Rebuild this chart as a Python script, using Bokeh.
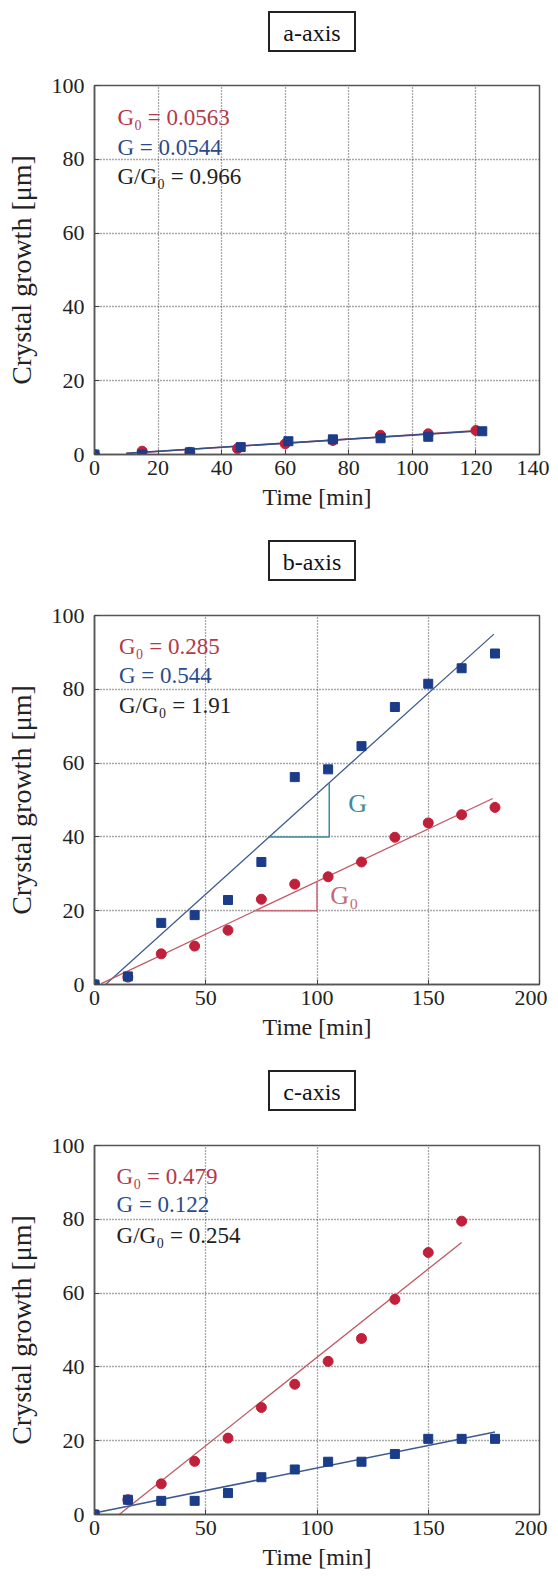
from bokeh.plotting import figure
from bokeh.models import Range1d, Div, FixedTicker
from bokeh.layouts import column
from bokeh.embed import file_html
from bokeh.resources import INLINE
from bokeh.core.properties import value

# ---------------- data ----------------
# a-axis
a_time_red = [0, 15, 30, 45, 60, 75, 90, 105, 120]
a_red = [0.0, 0.9, 0.6, 1.6, 2.9, 3.8, 5.2, 5.6, 6.5]
a_time_blue = [0, 15, 30, 46, 61, 75, 90, 105, 122]
a_blue = [0.0, 0.0, 0.6, 2.0, 3.6, 4.1, 4.4, 4.8, 6.3]
a_G0, a_G, a_ratio = 0.0563, 0.0544, 0.966
a_b0, a_b = -0.3, -0.2
a_fit_t = [10, 122]

# b-axis
b_time = [0, 15, 30, 45, 60, 75, 90, 105, 120, 135, 150, 165, 180]
b_red = [0.0, 2.0, 8.3, 10.4, 14.7, 23.1, 27.2, 29.2, 33.2, 39.9, 43.8, 46.0, 48.0]
b_blue = [0.0, 2.2, 16.7, 18.8, 22.9, 33.2, 56.2, 58.3, 64.6, 75.2, 81.5, 85.7, 89.7]
b_G0, b_G, b_ratio = 0.285, 0.544, 1.91
b_b0, b_b = -0.6, -2.7
b_fit_t0 = [3, 179]
b_fit_t = [3, 179.5]
# slope triangles (base level, right end time)
b_tri_G = [40, 105.5]
b_tri_G0 = [20, 100]

# c-axis
c_time_red = [0, 15, 30, 45, 60, 75, 90, 105, 120, 135, 150, 165]
c_red = [0.0, 4.0, 8.3, 14.4, 20.7, 29.0, 35.3, 41.5, 47.7, 58.3, 71.0, 79.5]
c_time_blue = [0, 15, 30, 45, 60, 75, 90, 105, 120, 135, 150, 165, 180]
c_blue = [0.0, 4.0, 3.7, 3.7, 5.8, 10.1, 12.2, 14.3, 14.3, 16.4, 20.5, 20.5, 20.5]
c_G0, c_G, c_ratio = 0.479, 0.122, 0.254
c_b0, c_b = -5.3, 0.4
c_fit_t0 = [11.1, 165]
c_fit_t = [0, 180]

y_ticks = [0, 20, 40, 60, 80, 100]
a_x_ticks = [0, 20, 40, 60, 80, 100, 120, 140]
bc_x_ticks = [0, 50, 100, 150, 200]

# ---------------- style ----------------
SERIF = "'Liberation Serif', 'Times New Roman', serif"
SERIF_CSS = "'Liberation Serif', 'Times New Roman', serif"
RED_PT = "#c0203a"
BLUE_PT = "#1b3c88"
RED_LN = "#c05862"
BLUE_LN = "#3e5a8e"
TRI_BLUE = "#3f8aa0"
TRI_RED = "#c66a78"
RED_TX = "#b23a4a"
BLUE_TX = "#2b4a8c"
BLACK_TX = "#222222"

TOP = 16


def make_fig(xmax, xticks, left, bottom=72):
    p = figure(width=558, height=10, frame_width=445, frame_height=369,
               x_range=Range1d(0, xmax), y_range=Range1d(0, 100),
               output_backend="svg", toolbar_location=None,
               min_border_left=left, min_border_right=10,
               min_border_top=TOP, min_border_bottom=bottom)
    p.outline_line_color = "#555555"
    p.outline_line_width = 1.5
    for ax in (p.xaxis[0], p.yaxis[0]):
        ax.major_label_text_font = SERIF
        ax.major_label_text_font_size = "22px"
        ax.major_label_text_color = "#222222"
        ax.axis_label_text_font = SERIF
        ax.axis_label_text_font_style = "normal"
        ax.axis_label_text_color = "#222222"
        ax.minor_tick_line_color = None
        ax.major_tick_out = 0
        ax.major_tick_in = 5
        ax.major_tick_line_color = "#444444"
        ax.axis_line_color = "#555555"
        ax.axis_line_width = 1.5
    p.xaxis.ticker = FixedTicker(ticks=xticks)
    p.yaxis.ticker = FixedTicker(ticks=y_ticks)
    p.xaxis.axis_label = "Time [min]"
    p.xaxis.axis_label_text_font_size = "24px"
    p.yaxis.axis_label = "Crystal growth [μm]"
    p.yaxis.axis_label_text_font_size = "28px"
    p.xaxis.major_label_standoff = 6
    p.xaxis.axis_label_standoff = 6
    p.yaxis.major_label_standoff = 10
    p.yaxis.axis_label_standoff = 12
    for g in (p.xgrid[0], p.ygrid[0]):
        g.grid_line_color = "#333333"
        g.grid_line_dash = "1 2"
        g.grid_line_width = 1.3
        g.grid_line_alpha = 0.85
    return p


def fit_line(p, ts, G, b, color, width=1.3):
    p.line([ts[0], ts[1]], [G * ts[0] + b, G * ts[1] + b], line_color=color, line_width=width)


def labels(p, x, ys, G0, G, ratio, g0fmt, gfmt, rfmt):
    texts = [f"G₀ = {G0:{g0fmt}}", f"G = {G:{gfmt}}", f"G/G₀ = {ratio:{rfmt}}"]
    cols = [RED_TX, BLUE_TX, BLACK_TX]
    for t, y, c in zip(texts, ys, cols):
        p.text(x=[x], y=[y], text=[t], text_color=c, text_font=value(SERIF),
               text_font_size="23px", text_baseline="middle", text_align="left")


# ---------------- a-axis ----------------
pa = make_fig(140, a_x_ticks, 94)
fit_line(pa, a_fit_t, a_G0, a_b0, "#b0405a", 1.6)
fit_line(pa, a_fit_t, a_G, a_b, "#34508a", 1.6)
pa.scatter(a_time_red, a_red, marker="circle", size=10, fill_color=RED_PT, line_color=RED_PT)
pa.scatter(a_time_blue, a_blue, marker="square", size=9, fill_color=BLUE_PT, line_color=BLUE_PT)
labels(pa, 7.2, [91.4, 83.3, 75.4], a_G0, a_G, a_ratio, ".4f", ".4f", ".3f")

# ---------------- b-axis ----------------
pb = make_fig(200, bc_x_ticks, 90)
fit_line(pb, b_fit_t, b_G, b_b, BLUE_LN)
fit_line(pb, b_fit_t0, b_G0, b_b0, RED_LN)
# slope triangles
for (base, tend), G, bb, col in ((b_tri_G, b_G, b_b, TRI_BLUE), (b_tri_G0, b_G0, b_b0, TRI_RED)):
    tstart = (base - bb) / G
    top = G * tend + bb
    pb.line([tstart, tend, tend], [base, base, top], line_color=col, line_width=1.5)
pb.text(x=[114], y=[49], text=["G"], text_color=TRI_BLUE, text_font=value(SERIF),
        text_font_size="26px", text_baseline="middle", text_align="left")
pb.text(x=[106], y=[24], text=["G₀"], text_color=TRI_RED, text_font=value(SERIF),
        text_font_size="26px", text_baseline="middle", text_align="left")
pb.scatter(b_time, b_red, marker="circle", size=10, fill_color=RED_PT, line_color=RED_PT)
pb.scatter(b_time, b_blue, marker="square", size=9, fill_color=BLUE_PT, line_color=BLUE_PT)
labels(pb, 11, [91.6, 83.7, 75.6], b_G0, b_G, b_ratio, ".3f", ".3f", ".2f")

# ---------------- c-axis ----------------
pc = make_fig(200, bc_x_ticks, 92, 66)
fit_line(pc, c_fit_t0, c_G0, c_b0, RED_LN)
fit_line(pc, c_fit_t, c_G, c_b, BLUE_LN, 1.6)
pc.scatter(c_time_red, c_red, marker="circle", size=10, fill_color=RED_PT, line_color=RED_PT)
pc.scatter(c_time_blue, c_blue, marker="square", size=9, fill_color=BLUE_PT, line_color=BLUE_PT)
labels(pc, 9.9, [91.7, 84.0, 75.6], c_G0, c_G, c_ratio, ".3f", ".3f", ".3f")


def box(name, top, total):
    html = (
        f'<div style="position:relative;height:{total}px;width:558px;">'
        f'<div style="position:absolute;top:{top}px;left:268px;width:88px;height:41px;'
        f'border:2px solid #222;text-align:center;line-height:41px;'
        f"font-family:{SERIF_CSS};font-size:24px;color:#111;\">{name}</div></div>"
    )
    return Div(text=html, width=558, height=total, margin=(0, 0, 0, 0))


layout = column(box("a-axis", 11, 85 - TOP), pa, box("b-axis", 14, 89 - TOP), pb,
                box("c-axis", 14, 89 - TOP), pc, spacing=0)

with open("out.html", "w") as f:
    f.write(file_html(layout, INLINE))
